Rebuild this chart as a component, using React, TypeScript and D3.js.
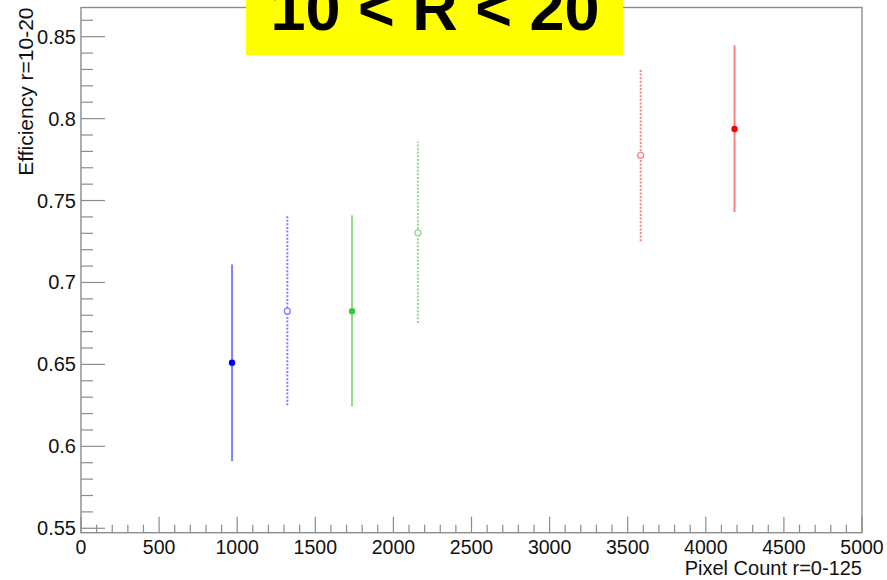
import { useEffect, useRef } from 'react'
import * as d3 from 'd3'

const W = 887, H = 580
const FRAME = { left: 81, right: 862, top: 7.5, bottom: 532.7 }
const FONT = 'Liberation Sans, Arial, Helvetica, sans-serif'
const AXIS_COL = '#8c8c8c'

// pixel count (x), efficiency (y), asymmetric error bounds
const PIXEL_COUNT = [967, 1321, 1735, 2157, 3583, 4184]
const EFFICIENCY  = [0.651, 0.6825, 0.6825, 0.7303, 0.7776, 0.7937]
const ERR_LOW     = [0.591, 0.625, 0.6244, 0.6753, 0.7252, 0.7429]
const ERR_HIGH    = [0.711, 0.7415, 0.741, 0.786, 0.8299, 0.8447]
const GROUP       = ['blue', 'blue', 'green', 'green', 'red', 'red']
const FILLED      = [true, false, true, false, false, true]

const X_TICKS = [0, 500, 1000, 1500, 2000, 2500, 3000, 3500, 4000, 4500, 5000]
const Y_TICKS = [0.55, 0.6, 0.65, 0.7, 0.75, 0.8, 0.85]

const COLORS: Record<string, { pt: string; bar: string }> = {
  blue:  { pt: '#0000ff', bar: '#7f7fff' },
  green: { pt: '#33cc33', bar: '#8ddc8d' },
  red:   { pt: '#ff0000', bar: '#ff8080' },
}

export default function App() {
  const svgRef = useRef<SVGSVGElement>(null)

  useEffect(() => {
    const svg = d3.select(svgRef.current!)
    svg.selectAll('*').remove()

    const x = d3.scaleLinear().domain([0, 5000]).range([FRAME.left, FRAME.right])
    const y = d3.scaleLinear().domain([0.5473, 0.8678]).range([FRAME.bottom, FRAME.top])

    svg.append('rect').attr('width', W).attr('height', H).attr('fill', '#fff')

    // ── frame ───────────────────────────────────────────────────────────
    svg.append('rect')
      .attr('x', FRAME.left).attr('y', FRAME.top)
      .attr('width', FRAME.right - FRAME.left).attr('height', FRAME.bottom - FRAME.top)
      .attr('fill', 'none').attr('stroke', AXIS_COL).attr('stroke-width', 1.4)

    // ── x axis ticks ────────────────────────────────────────────────────
    const xMinor = d3.range(0, 5001, 100)
    svg.append('g').selectAll('line').data(xMinor).join('line')
      .attr('x1', d => x(d)).attr('x2', d => x(d))
      .attr('y1', FRAME.bottom)
      .attr('y2', d => FRAME.bottom - (d % 500 === 0 ? 16 : 8))
      .attr('stroke', AXIS_COL).attr('stroke-width', 1.2)

    svg.append('g').selectAll('text').data(X_TICKS).join('text')
      .attr('x', d => x(d)).attr('y', 554)
      .attr('text-anchor', 'middle').attr('font-family', FONT).attr('font-size', 19.5)
      .attr('fill', '#111').text(d => String(d))

    svg.append('text')
      .attr('x', FRAME.right).attr('y', 575)
      .attr('text-anchor', 'end').attr('font-family', FONT).attr('font-size', 20)
      .attr('fill', '#111').text('Pixel Count r=0-125')

    // ── y axis ticks ────────────────────────────────────────────────────
    const yMinor = d3.range(55, 87).map(v => v / 100)
    svg.append('g').selectAll('line').data(yMinor).join('line')
      .attr('x1', FRAME.left)
      .attr('x2', (d, i) => FRAME.left + ((55 + i) % 5 === 0 ? 24 : 12))
      .attr('y1', d => y(d)).attr('y2', d => y(d))
      .attr('stroke', AXIS_COL).attr('stroke-width', 1.2)

    svg.append('g').selectAll('text').data(Y_TICKS).join('text')
      .attr('x', 76).attr('y', d => y(d) + 7)
      .attr('text-anchor', 'end').attr('font-family', FONT).attr('font-size', 20)
      .attr('fill', '#111').text(d => d3.format('~g')(d))

    svg.append('text')
      .attr('transform', `translate(32.5,${FRAME.top}) rotate(-90)`)
      .attr('text-anchor', 'end').attr('font-family', FONT).attr('font-size', 21)
      .attr('fill', '#111').text('Efficiency r=10-20')

    // ── error bars + markers ────────────────────────────────────────────
    const idx = d3.range(PIXEL_COUNT.length)
    const g = svg.append('g')
    g.selectAll('line.err').data(idx).join('line').attr('class', 'err')
      .attr('x1', i => x(PIXEL_COUNT[i])).attr('x2', i => x(PIXEL_COUNT[i]))
      .attr('y1', i => y(ERR_LOW[i])).attr('y2', i => y(ERR_HIGH[i]))
      .attr('stroke', i => COLORS[GROUP[i]].bar)
      .attr('stroke-width', 2)
      .attr('stroke-dasharray', i => FILLED[i] ? null : '2 1.6')

    g.selectAll('circle').data(idx).join('circle')
      .attr('cx', i => x(PIXEL_COUNT[i])).attr('cy', i => y(EFFICIENCY[i]))
      .attr('r', i => FILLED[i] ? 3.2 : 3)
      .attr('fill', i => FILLED[i] ? COLORS[GROUP[i]].pt : '#fff')
      .attr('stroke', i => FILLED[i] ? 'none' : COLORS[GROUP[i]].bar)
      .attr('stroke-width', 1.3)

    // ── title box ───────────────────────────────────────────────────────
    svg.append('rect')
      .attr('x', 246).attr('y', 0).attr('width', 377).attr('height', 55)
      .attr('fill', '#ffff00')
    svg.append('text')
      .attr('x', 435).attr('y', 30)
      .attr('text-anchor', 'middle').attr('font-family', FONT)
      .attr('font-weight', 'bold').attr('font-size', 63)
      .attr('fill', '#000').text('10 < R < 20')
  }, [])

  return (
    <svg ref={svgRef} width={W} height={H}
      style={{ position: 'absolute', left: 0, top: 0, display: 'block' }} />
  )
}
